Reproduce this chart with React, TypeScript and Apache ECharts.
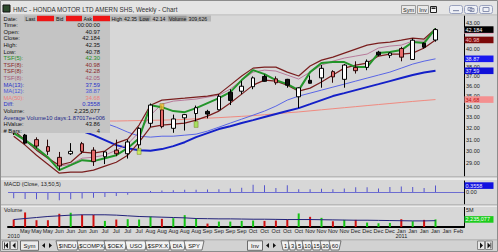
import React, { useEffect, useRef } from 'react';
import * as echarts from 'echarts';

const FONT = '"Liberation Sans", Arial, sans-serif';

// ---- categories (weekly bars) ----
const weeks = ['2010-05-09','2010-05-16','2010-05-23','2010-05-30','2010-06-06','2010-06-13','2010-06-20','2010-06-27','2010-07-04','2010-07-11','2010-07-18','2010-07-25','2010-08-01','2010-08-08','2010-08-15','2010-08-22','2010-08-29','2010-09-05','2010-09-12','2010-09-19','2010-09-26','2010-10-03','2010-10-10','2010-10-17','2010-10-24','2010-10-31','2010-11-07','2010-11-14','2010-11-21','2010-11-28','2010-12-05','2010-12-12','2010-12-19','2010-12-26','2011-01-02','2011-01-09','2011-01-16','2011-01-23','2011-01-30','2011-02-06'];
const monthLabels = ['', 'May','May','May','Jun','Jun','Jun','Jun','Jul','Jul','Jul','Jul','Aug','Aug','Aug','Aug','Aug','Sep','Sep','Sep','Sep','Oct','Oct','Oct','Oct','Oct','Nov','Nov','Nov','Nov','Dec','Dec','Dec','Dec','Jan','Jan','Jan','Jan','Jan','Feb'];
const yearLabels = ['2010','','','','','','','','','','','','','','','','','','','','','','','','','','','','','','','','','','2011','','','','',''];
// price tick labels visible on the right axis (others are covered by value tags)
const priceTicks = [29, 30, 31, 32, 33, 34, 35, 36, 37, 38, 40, 43];

// ---- candles ----
const opens  = [32.0, 31.4, 31.0, 30.4, 29.5, 29.8, 30.65, 30.1, 29.55, 30.1, 29.8, 30.55, 32.45, 33.7, 32.0, 32.95, 33.35, 33.55, 33.7, 35.4, 35.5, 35.95, 37.0, 36.75, 36.7, 34.95, 36.6, 36.85, 37.5, 36.7, 37.95, 37.95, 39.6, 39.25, 40.0, 38.8, 40.6, 40.97];
const closes = [31.6, 30.7, 30.45, 30.0, 28.8, 30.0, 30.0, 29.15, 29.95, 29.8, 30.8, 32.0, 34.15, 32.15, 32.85, 33.25, 33.9, 33.3, 35.0, 34.6, 36.0, 36.85, 36.5, 36.35, 36.1, 35.84, 36.3, 37.85, 36.95, 38.2, 37.6, 38.6, 39.3, 39.5, 39.05, 40.95, 40.15, 42.184];
const lows   = [31.4, 30.6, 30.25, 29.7, 28.45, 29.7, 29.8, 28.8, 28.95, 29.6, 29.4, 30.1, 32.1, 32.0, 31.6, 31.8, 32.6, 32.9, 33.65, 34.15, 35.2, 35.7, 36.45, 36.15, 35.85, 33.87, 36.27, 35.85, 36.35, 35.85, 37.3, 37.65, 39.15, 38.95, 38.6, 38.75, 40.0, 40.78];
const highs  = [32.3, 31.5, 31.2, 31.0, 29.95, 30.7, 30.8, 30.35, 30.0, 31.0, 31.0, 32.1, 34.3, 34.1, 33.25, 33.3, 34.1, 33.7, 35.2, 35.7, 36.55, 37.0, 37.2, 37.0, 36.75, 35.9, 37.1, 38.2, 37.65, 38.3, 38.6, 38.8, 39.75, 39.6, 40.2, 41.15, 40.7, 42.35];
// w = hollow up, r = red down, b = black down
const candleKind = ['r','b','r','r','r','w','r','r','w','r','w','w','w','r','w','w','w','b','w','b','w','w','b','r','b','w','b','w','r','w','r','w','b','w','r','w','b','w'];

// ---- indicator lines ----
const tsf5     = [31.57, 30.96, 30.27, 29.51, 28.46, 28.86, 29.27, 29.19, 29.43, 29.68, 30.27, 31.13, 34.14, 33.95, 33.58, 33.48, 33.86, 34.34, 34.82, 35.41, 36.62, 37.66, 37.24, 36.62, 36.21, 35.61, 37.45, 38.41, 38.52, 38.52, 37.98, 37.98, 39.50, 39.61, 39.83, 40.74, 40.62, 42.30];
const tsf8Low  = [31.30, 30.53, 29.68, 28.94, 28.22, 28.30, 28.30, 28.46, 28.78, 29.10, 29.68, 30.78, 32.10, 32.29, 32.38, 32.47, 32.74, 33.11, 33.58, 34.34, 35.21, 36.11, 36.62, 36.52, 36.11, 35.51, 35.81, 36.42, 37.14, 37.87, 38.19, 38.41, 39.17, 39.39, 39.39, 39.50, 40.06, 40.98];
const tsf8High = [31.84, 30.96, 30.10, 29.43, 28.86, 29.10, 29.93, 29.85, 30.02, 30.70, 31.05, 32.29, 34.14, 34.63, 34.73, 34.82, 34.92, 35.02, 35.21, 36.11, 37.04, 37.87, 37.98, 37.98, 37.45, 37.04, 38.09, 38.73, 39.06, 39.50, 39.94, 40.39, 40.62, 40.74, 40.96, 41.19, 41.08, 42.28];
const tsf8Mid  = [31.66, 30.87, 30.19, 29.51, 28.78, 28.94, 29.43, 29.51, 29.68, 30.10, 30.61, 31.66, 33.20, 34.24, 34.53, 34.63, 34.73, 34.92, 35.12, 35.71, 36.62, 37.45, 37.66, 37.56, 37.14, 36.73, 37.45, 38.19, 38.62, 38.95, 39.17, 39.39, 40.06, 40.28, 40.39, 40.85, 40.85, 42.05];
const ma13     = [32.92, 32.74, 32.56, 32.38, 32.19, 32.01, 31.75, 31.39, 30.96, 30.53, 30.27, 30.10, 30.06, 30.19, 30.44, 30.78, 31.22, 31.57, 31.93, 32.19, 32.47, 32.74, 33.02, 33.30, 33.58, 33.86, 34.24, 34.63, 35.02, 35.31, 35.61, 35.91, 36.21, 36.52, 36.83, 37.14, 37.40, 37.59];
const ma12     = [33.90, 33.80, 33.70, 33.55, 33.40, 33.20, 33.00, 32.75, 32.47, 32.10, 31.66, 31.30, 31.22, 31.30, 31.30, 31.39, 31.48, 31.75, 32.10, 32.47, 32.83, 33.20, 33.58, 34.05, 34.63, 35.02, 35.31, 35.61, 35.91, 36.21, 36.52, 36.83, 37.14, 37.45, 37.87, 38.30, 38.62, 38.87];
const ma50     = [32.60, 32.60, 32.60, 32.62, 32.64, 32.65, 32.65, 32.66, 32.66, 32.66, 32.68, 32.70, 32.72, 32.74, 32.77, 32.80, 32.87, 32.92, 32.97, 33.03, 33.09, 33.15, 33.24, 33.33, 33.42, 33.50, 33.60, 33.70, 33.80, 33.90, 34.00, 34.10, 34.20, 34.30, 34.40, 34.50, 34.59, 34.68];

// ---- signal markers ----
const signalIdx = [11, 13, 16];
const signalPrice = [30.0, 34.0, 32.35];
const signalColor = ['#c8f040', '#f2c230', '#98e040'];

// ---- MACD histogram ----
const macd = [-0.34, -0.39, -0.40, -0.43, -0.45, -0.40, -0.35, -0.31, -0.27, -0.22, -0.15, -0.05, 0.06, 0.08, 0.10, 0.12, 0.12, 0.14, 0.16, 0.20, 0.24, 0.40, 0.38, 0.22, 0.38, 0.16, 0.16, 0.18, 0.16, 0.20, 0.26, 0.26, 0.20, 0.28, 0.30, 0.28, 0.22, 0.3558];

// ---- volume ----
const volumes = [2.2e6, 4.3e6, 2.0e6, 2.0e6, 3.9e6, 4.2e6, 3.6e6, 3.6e6, 1.8e6, 2.2e6, 2.3e6, 2.2e6, 3.1e6, 2.4e6, 2.6e6, 3.5e6, 2.5e6, 1.0e6, 1.6e6, 1.6e6, 1.8e6, 1.9e6, 1.8e6, 1.9e6, 2.2e6, 4.0e6, 3.0e6, 2.7e6, 1.7e6, 2.1e6, 2.1e6, 1.3e6, 1.1e6, 1.2e6, 2.3e6, 1.7e6, 2.1e6, 2235077];
const volumeDir = ['r','r','r','r','r','g','r','r','g','r','g','g','g','r','g','g','g','r','g','g','g','g','r','r','r','g','r','g','r','g','r','g','g','g','r','g','r','g'];
const volumeAvg = [2.2e6, 2.5e6, 2.8e6, 3.1e6, 3.3e6, 3.5e6, 3.6e6, 3.6e6, 3.6e6, 3.5e6, 3.3e6, 3.1e6, 3.0e6, 2.9e6, 2.8e6, 2.7e6, 2.5e6, 2.45e6, 2.4e6, 2.4e6, 2.35e6, 2.3e6, 2.3e6, 2.25e6, 2.2e6, 2.2e6, 2.2e6, 2.15e6, 2.1e6, 2.05e6, 2.0e6, 2.0e6, 1.95e6, 1.9e6, 1.85e6, 1.8e6, 1.8e6, 1.87017e6];

const ln = Math.log;

const GRID_LEFT = 8;
const GRID_W = 456;

function buildOption(): any {
  const candleData = opens.map((o, i) => {
    const item: any = { value: [ln(o), ln(closes[i]), ln(lows[i]), ln(highs[i])] };
    if (candleKind[i] === 'b') item.itemStyle = { color0: '#111111', borderColor0: '#000000' };
    return item;
  });
  const priceLine = (data: number[], color: string, width: number, z: number) => ({
    type: 'line', xAxisIndex: 0, yAxisIndex: 0, data: data.map((v) => ln(v)), symbol: 'none',
    silent: true, z, lineStyle: { color, width }, emphasis: { disabled: true },
  });
  const xAxisBase = (gi: number) => ({
    type: 'category', gridIndex: gi, data: weeks, boundaryGap: true,
    axisTick: { show: false }, splitLine: { show: false },
    axisLine: { show: gi === 2, onZero: false, lineStyle: { color: '#000', width: 2 } },
    axisLabel: gi === 2 ? {
      show: true, interval: 0, fontSize: 5.5, color: '#222', fontFamily: FONT, margin: 1.5, lineHeight: 5.3,
      formatter: (_v: string, idx: number) => monthLabels[idx] + (yearLabels[idx] ? '\n' + yearLabels[idx] : ''),
    } : { show: false },
  });
  const yLabel = { fontSize: 5.5, color: '#222', fontFamily: FONT, margin: 2 };
  return {
    animation: false,
    backgroundColor: '#d7d7d7',
    grid: [
      { left: GRID_LEFT, width: GRID_W, top: 16, height: 160 },
      { left: GRID_LEFT, width: GRID_W, top: 181, height: 23 },
      { left: GRID_LEFT, width: GRID_W, top: 207, height: 20 },
    ],
    xAxis: [xAxisBase(0), xAxisBase(1), xAxisBase(2)],
    yAxis: [
      {
        type: 'value', gridIndex: 0, position: 'right', min: ln(28), max: ln(43.82),
        splitLine: { show: false }, axisTick: { show: false },
        axisLine: { show: true, lineStyle: { color: '#000' } },
        axisLabel: { ...yLabel, customValues: priceTicks.map((p) => ln(p)), formatter: (v: number) => Math.exp(v).toFixed(2) },
      },
      {
        type: 'value', gridIndex: 1, position: 'right', min: -0.66, max: 0.61,
        splitLine: { show: false }, axisTick: { show: false },
        axisLine: { show: true, lineStyle: { color: '#000' } },
        axisLabel: { ...yLabel, customValues: [0], formatter: (v: number) => v.toFixed(2) },
      },
      {
        type: 'value', gridIndex: 2, position: 'right', min: 0, max: 5.9e6,
        splitLine: { show: false }, axisTick: { show: false },
        axisLine: { show: true, lineStyle: { color: '#000' } },
        axisLabel: { ...yLabel, customValues: [5e6], formatter: (v: number) => Math.round(v / 1e6) + 'M' },
      },
    ],
    series: [
      priceLine(ma50, '#f08a80', 1, 2),
      priceLine(ma12, '#5a66e6', 1, 2),
      priceLine(ma13, '#1420c8', 2, 2),
      priceLine(tsf8Mid, '#b87a9a', 1, 3),
      priceLine(tsf8High, '#7a1e1e', 1.2, 3),
      priceLine(tsf8Low, '#7a1e1e', 1.2, 3),
      priceLine(tsf5, '#23952a', 2, 3),
      {
        type: 'candlestick', xAxisIndex: 0, yAxisIndex: 0, data: candleData, barWidth: 4, z: 5, silent: true,
        itemStyle: { color: '#ffffff', borderColor: '#000000', color0: '#e66a6a', borderColor0: '#2a0808', borderWidth: 1 },
      },
      {
        type: 'scatter', xAxisIndex: 0, yAxisIndex: 0, symbol: 'rect', symbolSize: [4, 6], z: 6, silent: true,
        data: signalIdx.map((i, k) => ({ value: [i, ln(signalPrice[k])], itemStyle: { color: signalColor[k], borderColor: '#6a6a10', borderWidth: 0.5 } })),
      },
      {
        type: 'bar', xAxisIndex: 1, yAxisIndex: 1, data: macd, barWidth: 1, silent: true,
        itemStyle: { color: '#5555cc' },
        markLine: { silent: true, symbol: 'none', label: { show: false }, lineStyle: { color: '#6c6cd0', width: 1, type: 'solid' }, data: [{ yAxis: 0 }] },
      },
      {
        type: 'bar', xAxisIndex: 2, yAxisIndex: 2, barWidth: 2, silent: true,
        data: volumes.map((v, i) => ({ value: v, itemStyle: { color: volumeDir[i] === 'g' ? '#14c414' : '#d01010' } })),
      },
      {
        type: 'line', xAxisIndex: 2, yAxisIndex: 2, data: volumeAvg, symbol: 'none', silent: true, z: 4,
        lineStyle: { color: '#22227a', width: 1 },
      },
    ],
  };
}

function staticGraphics(): any[] {
  const g: any[] = [];
  const R = (x: number, y: number, w: number, h: number, fill: string, stroke?: string, z = 100, r = 0) =>
    g.push({ type: 'rect', silent: true, z, shape: { x, y, width: w, height: h, r }, style: { fill, stroke: stroke || null, lineWidth: 1 } });
  const T = (x: number, y: number, text: string, fill = '#111', size = 6, align = 'left', z = 110) =>
    g.push({ type: 'text', silent: true, z, x, y, style: { text, fill, fontSize: size, fontFamily: FONT, textAlign: align, textVerticalAlign: 'middle', align, verticalAlign: 'middle' } });
  const P = (pts: number[][], fill: string, stroke?: string, z = 105) =>
    g.push({ type: 'polygon', silent: true, z, shape: { points: pts }, style: { fill, stroke: stroke || null, lineWidth: 0.8 } });

  // title bar
  R(0, 0, 498, 15, '#e4e4e4');
  R(0, 14.5, 498, 0.8, '#b0b0b0');
  R(3, 5, 7, 7, '#2d4a2d', '#111');
  T(13, 9, 'HMC - HONDA MOTOR LTD AMERN SHS, Weekly - Chart', '#333', 6.3);
  // top-right controls
  R(401.5, 5.5, 14, 8, '#e9e9e9', '#9a9a9a');
  T(408.5, 9.5, 'Sym', '#222', 5.5, 'center');
  R(417.5, 5.5, 11, 8, '#e9e9e9', '#9a9a9a');
  T(423, 9.5, 'Inv', '#222', 5.5, 'center');
  R(430.5, 6.5, 6, 6, '#f4f4f4', '#222');
  R(431.5, 7.5, 4, 1.5, '#222');
  [449.5, 464.5, 479.5].forEach((x) => R(x, 5.5, 13, 8, '#eef0f6', '#9aa2be', 100, 2));
  R(453, 10, 6, 1.2, '#8a92b0');
  R(468, 7.5, 4, 3, 'none', '#8a92b0');
  R(470, 8.5, 4, 3, 'none', '#8a92b0');
  R(483, 7.5, 6, 4, 'none', '#8a92b0');

  // info panel
  R(0, 15.3, 110, 117.7, '#c4c4c4');
  // quote bar
  R(24, 15.5, 187, 6, '#b6b6b6');
  const q = 5.2;
  T(25.5, 18.5, 'Last', '#111', q);
  R(37, 15.8, 17, 5.4, '#ee1515');
  T(56, 18.5, 'Bid', '#111', q);
  R(66, 15.8, 16, 5.4, '#ee1515');
  T(83.5, 18.5, 'Ask', '#111', q);
  R(93, 15.8, 17, 5.4, '#ee1515');
  T(111.5, 18.5, 'High', '#111', q);
  T(124, 18.5, '42.35', '#111', q);
  R(138.5, 15.8, 12, 5.4, '#9c9c9c');
  T(139.5, 18.5, 'Low', '#111', q);
  T(152.5, 18.5, '42.14', '#111', q);
  R(168, 15.8, 18.5, 5.4, '#9c9c9c');
  T(169, 18.5, 'Volume', '#111', q);
  T(188.5, 18.5, '309,626', '#111', q);

  const rows: [string, string, string][] = [
    ['Date:', '', '#111'],
    ['Time:', '00:00:00', '#111'],
    ['Open:', '40.97', '#111'],
    ['Close:', '42.184', '#111'],
    ['High:', '42.35', '#111'],
    ['Low:', '40.78', '#111'],
    ['TSF(5):', '42.30', '#1f8f25'],
    ['TSF(8):', '40.98', '#8a2a2a'],
    ['TSF(8):', '42.28', '#8a2a2a'],
    ['TSF(8):', '42.05', '#a55a7a'],
    ['MA(13):', '37.59', '#2a32c8'],
    ['MA(12):', '38.87', '#4a56d8'],
    ['MA(50):', '34.68', '#ee8080'],
    ['Diff:', '0.3558', '#2a32c8'],
    ['Volume:', '2,235,077', '#111'],
    ['Average Volume10 days:1.87017e+006', '', '#1f2a8a'],
    ['HValue:', '43.86', '#111'],
    ['# Bars:', '4', '#111'],
  ];
  rows.forEach(([lab, val, col], k) => {
    const y = 18.5 + k * 6.6;
    T(3.5, y, lab, col, 5.8);
    if (val) T(100, y, val, col, 5.8, 'right');
  });

  // panel separators
  R(0, 176.5, 498, 1, '#9c9c9c');
  R(0, 177.5, 498, 2.5, '#ececec');
  R(0, 204.5, 498, 1, '#9c9c9c');
  R(0, 205.5, 498, 1.5, '#ececec');
  T(4, 184, 'MACD (Close, 13,50,5)', '#222', 5.5);
  T(4, 210, 'Volume', '#222', 5.5);

  // bottom toolbar
  R(0, 239.5, 498, 12.5, '#d2d2d2');
  R(0, 239.5, 498, 0.8, '#a2a2a2');
  R(2.5, 241, 7, 8.5, '#e8e8e8', '#888');
  P([[8, 242.5], [8, 248.5], [5, 245.5]], '#111');
  R(4.2, 242.5, 0.8, 6, '#111');
  R(10.5, 241, 7, 8.5, '#e8e8e8', '#888');
  P([[15.5, 242.5], [15.5, 248.5], [12.5, 245.5]], '#111');
  R(20.5, 240.8, 18, 9.5, '#ececec', '#6a6a6a');
  T(29.5, 245.6, 'Sym', '#111', 6, 'center');
  P([[45, 243], [45, 248], [42, 245.5]], '#111');
  P([[49, 243], [49, 248], [52, 245.5]], '#111');
  const tabs1: [string, number, number][] = [['$INDU', 56, 77], ['$COMPX', 77, 104], ['$OEX', 104, 125], ['USO', 125, 145], ['$SPX.X', 145, 169], ['DIA', 169, 184], ['SPY', 184, 202]];
  const tabs2: [string, number, number][] = [['1', 281, 288], ['3', 288, 295], ['5', 295, 302], ['10', 302, 311], ['15', 311, 320], ['30', 320, 329], ['60', 329, 339]];
  [...tabs1, ...tabs2].forEach(([lab, x0, x1]) => {
    P([[x0, 240.8], [x1 + 2, 240.8], [x1, 250], [x0 + 2, 250]], '#f2f2f2', '#555');
    T((x0 + x1) / 2 + 1, 245.6, lab, '#111', 5.8, 'center', 110);
  });
  R(247.5, 240.8, 15, 9.5, '#ececec', '#6a6a6a');
  T(255, 245.6, 'Inv', '#111', 6, 'center');
  P([[269, 243], [269, 248], [266, 245.5]], '#111');
  P([[273, 243], [273, 248], [276, 245.5]], '#111');
  R(477.5, 241, 7, 8.5, '#e8e8e8', '#888');
  P([[480, 242.5], [480, 248.5], [483, 245.5]], '#111');
  R(485.5, 241, 7, 8.5, '#e8e8e8', '#888');
  P([[487.5, 242.5], [487.5, 248.5], [490.5, 245.5]], '#111');
  R(490.5, 242.5, 0.8, 6, '#111');

  // window frame
  g.push({ type: 'rect', silent: true, z: 120, shape: { x: 0.5, y: 0.5, width: 497, height: 251 }, style: { fill: 'none', stroke: '#8c8c8c', lineWidth: 1 } });
  return g;
}

function buildTags(chart: any): any[] {
  const out: any[] = [];
  const last = closes.length - 1;
  const tag = (axis: number, v: number, bg: string, fg: string, label: string | null) => {
    const y = chart.convertToPixel({ yAxisIndex: axis }, v) as number;
    out.push({ type: 'rect', silent: true, z: 105, shape: { x: 464.5, y: y - 3.3, width: 29, height: 6.6 }, style: { fill: bg } });
    if (label) out.push({ type: 'text', silent: true, z: 106, x: 465.5, y, style: { text: label, fill: fg, fontSize: 5.5, fontFamily: FONT, textVerticalAlign: 'middle', verticalAlign: 'middle' } });
  };
  // mauve TSF tag sits underneath the close tag (only its edge shows)
  tag(0, ln(tsf8Mid[last]), '#e4a9bd', '#ffffff', null);
  tag(0, ln(closes[last]), '#000000', '#ffffff', closes[last].toFixed(3));
  tag(0, ln(tsf8Low[last]), '#7c0a0a', '#ffc0c0', tsf8Low[last].toFixed(2));
  tag(0, ln(ma12[last]), '#1818f0', '#e8e8ff', ma12[last].toFixed(2));
  tag(0, ln(ma13[last]), '#1010d8', '#e8e8ff', ma13[last].toFixed(2));
  tag(0, ln(ma50[last]), '#f49090', '#c01010', ma50[last].toFixed(2));
  tag(1, macd[last], '#1010e0', '#e8e8ff', macd[last].toFixed(4));
  tag(2, volumes[last], '#1ccc1c', '#ffffff', volumes[last].toLocaleString('en-US'));
  return out;
}

export default function App() {
  const ref = useRef<HTMLDivElement>(null);
  useEffect(() => {
    if (!ref.current) return;
    const chart = echarts.init(ref.current, undefined, { renderer: 'svg' });
    chart.setOption(buildOption());
    const tags = buildTags(chart);
    chart.setOption({ graphic: { elements: [...staticGraphics(), ...tags] } });
    return () => chart.dispose();
  }, []);
  return <div ref={ref} style={{ position: 'fixed', left: 0, top: 0, width: 498, height: 252 }} />;
}
